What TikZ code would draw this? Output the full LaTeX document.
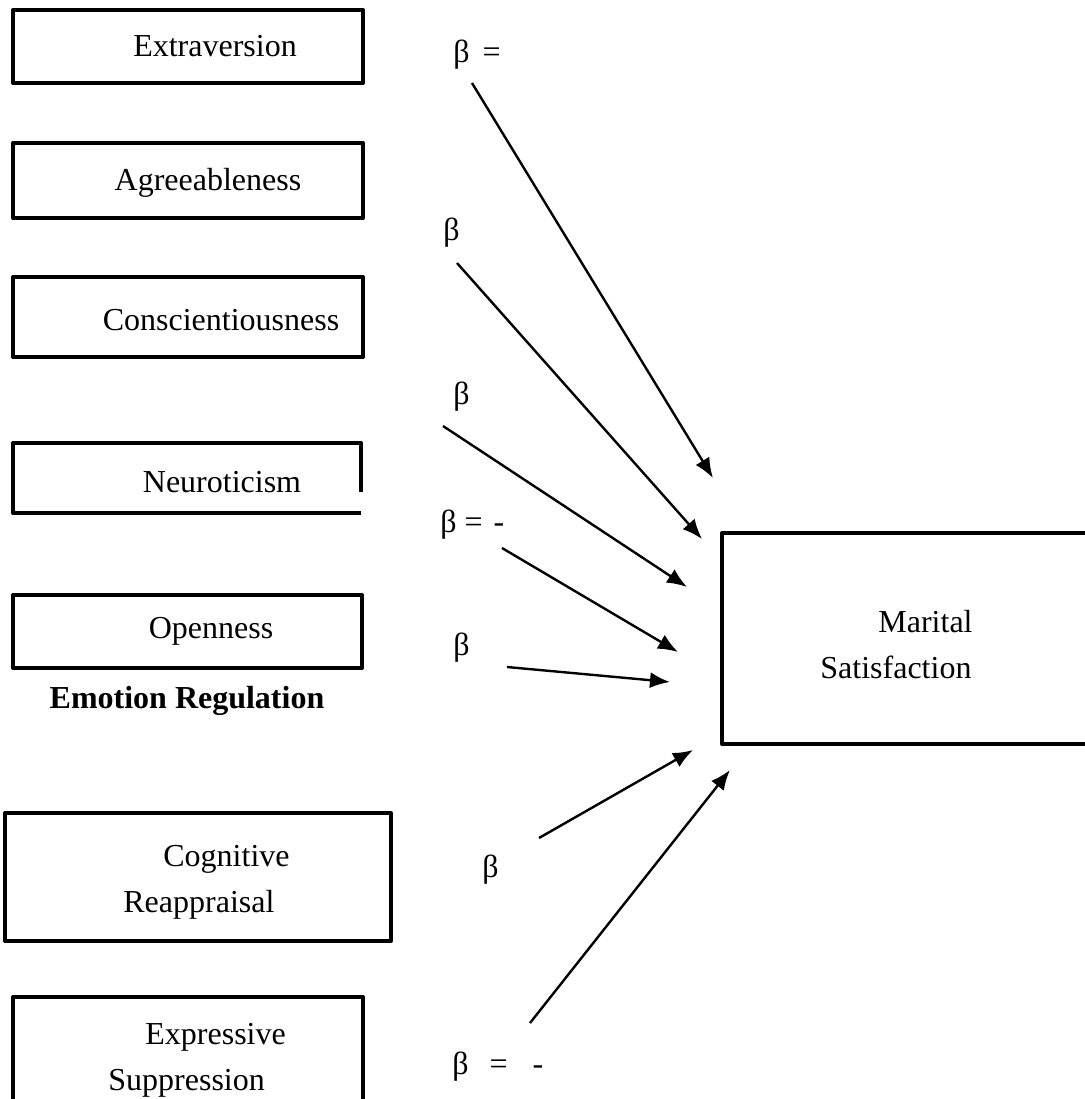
\documentclass[tikz,border=0pt]{standalone}
\usepackage{fontspec}
\setmainfont{Liberation Serif}
\usetikzlibrary{arrows.meta}

\tikzset{
  box/.style={line width=2pt, line join=round},
  lbl/.style={inner sep=0pt, anchor=base, font=\fontsize{16}{23}\selectfont},
  twoline/.style={inner sep=0pt, align=left, anchor=base west, font=\fontsize{16}{23}\selectfont},
  coef/.style={inner sep=0pt, anchor=base west, font=\fontsize{16}{19}\selectfont},
  arr/.style={line width=1.2pt, -{Latex[length=10pt,width=8pt]}}
}

\begin{document}
\begin{tikzpicture}[x=0.5pt,y=-0.5pt]
	\useasboundingbox (0,0) rectangle (1085,1099);
	% Personality boxes
	\draw[box] (13,10) rectangle (363,83);
	\draw[box] (13,143) rectangle (363,218);
	\draw[box] (13,277) rectangle (363,357);
	\draw[box] (361,492) -- (361,443) -- (13,443) -- (13,513) -- (361,513);
	\draw[box] (13,595) rectangle (362,668);
	% Emotion regulation boxes
	\draw[box] (5,813) rectangle (391,941);
	\draw[box] (13,997) rectangle (363,1120);
	% Outcome box
	\draw[box] (722,533) rectangle (1100,744);
	% Labels
	\node[lbl] (ext) at (215,56) {Extraversion};
	\node[lbl] (agr) at (208,190) {Agreeableness};
	\node[lbl] (con) at (221,330) {Conscientiousness};
	\node[lbl] (neu) at (222,492) {Neuroticism};
	\node[lbl] (ope) at (211,638) {Openness};
	\node[lbl, font=\fontsize{16}{19}\selectfont\bfseries] (emo) at (187,708) {Emotion Regulation};
	\node[twoline] (cog) at (123,912) {\hspace*{20pt}Cognitive\\Reappraisal};
	\node[twoline] (exp) at (108,1090) {\hspace*{18.5pt}Expressive\\Suppression};
	\node[twoline] (mar) at (820,678) {\hspace*{29pt}Marital\\Satisfaction};
	% Coefficients
	\node[coef] (b1) at (453,62) {β\hspace{6.5pt}=};
	\node[coef] (b2) at (443,240) {β};
	\node[coef] (b3) at (453,404) {β};
	\node[coef] (b4) at (440,532) {β =\hspace{5.5pt}-};
	\node[coef] (b5) at (453,655) {β};
	\node[coef] (b6) at (482,877) {β};
	\node[coef] (b7) at (452,1074) {β\hspace{10.5pt}=\hspace{12.5pt}-};
	% Paths
	\coordinate (s1) at (472,83);   \coordinate (t1) at (713,478);
	\coordinate (s2) at (457,263);  \coordinate (t2) at (702,539);
	\coordinate (s3) at (443,426);  \coordinate (t3) at (687,587);
	\coordinate (s4) at (502,548);  \coordinate (t4) at (678,652);
	\coordinate (s5) at (507,667);  \coordinate (t5) at (670,682);
	\coordinate (s6) at (539,838);  \coordinate (t6) at (693,750);
	\coordinate (s7) at (530,1023); \coordinate (t7) at (730,770);
	\foreach \i in {1,...,7} \draw[arr] (s\i) -- (t\i);
\end{tikzpicture}
\end{document}
